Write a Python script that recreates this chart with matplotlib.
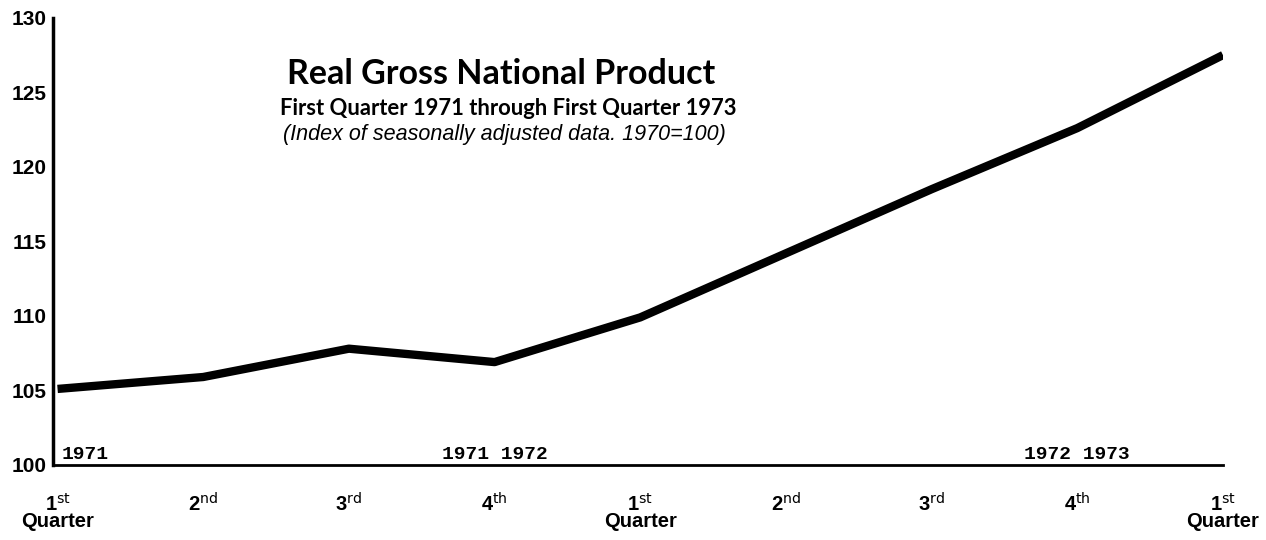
import matplotlib.pyplot as plt

quarters = ["1st\nQuarter", "2nd", "3rd", "4th", "1st\nQuarter", "2nd", "3rd", "4th", "1st\nQuarter"]
gnp_index = [105.1, 105.9, 107.8, 106.9, 109.9, 114.2, 118.5, 122.6, 127.5]
y_ticks = [100, 105, 110, 115, 120, 125, 130]
year_marks = [(0, "1971"), (3, "1971 1972"), (7, "1972 1973")]


def quarter_label(s):
    first, *rest = s.split("\n")
    lbl = first[0] + r"$^{\mathrm{" + first[1:] + "}}$"
    return "\n".join([lbl] + rest)


fig = plt.figure(figsize=(12.66, 5.4), dpi=100)
ax = fig.add_axes([0.042, 0.139, 0.924, 0.828])

x = list(range(len(gnp_index)))
ax.plot(x, gnp_index, color="black", linewidth=6.0, solid_capstyle="butt")

ax.set_xlim(-0.03, 8.0)
ax.set_ylim(100, 130)
ax.set_yticks(y_ticks)
ax.set_yticklabels([str(v) for v in y_ticks], fontsize=15, family="Liberation Sans",
                   fontweight="bold")
ax.set_xticks(x)
ax.set_xticklabels([quarter_label(q) for q in quarters], fontsize=14.5,
                   family="Liberation Sans", fontweight="bold", linespacing=0.85)
ax.tick_params(axis="x", length=0, pad=20)
ax.tick_params(axis="y", length=0, pad=5)

for side in ("top", "right"):
    ax.spines[side].set_visible(False)
ax.spines["left"].set_linewidth(2.5)
ax.spines["bottom"].set_linewidth(2.0)

for pos, txt in year_marks:
    ha = "left" if pos == 0 else "center"
    xx = pos + 0.03 if pos == 0 else pos
    ax.text(xx, 100.12, txt, ha=ha, va="bottom", fontsize=14,
            family="Liberation Mono", fontweight="bold")

ax.text(0.383, 0.875, "Real Gross National Product", transform=ax.transAxes,
        ha="center", va="center", fontsize=24.5, family="Lato", fontweight="bold")
ax.text(0.389, 0.797, "First Quarter 1971 through First Quarter 1973", transform=ax.transAxes,
        ha="center", va="center", fontsize=15.8, family="Lato", fontweight="bold")
ax.text(0.386, 0.738, "(Index of seasonally adjusted data. 1970=100)", transform=ax.transAxes,
        ha="center", va="center", fontsize=15.5, family="Liberation Sans", style="italic")

fig.savefig("out.png", dpi=100)
